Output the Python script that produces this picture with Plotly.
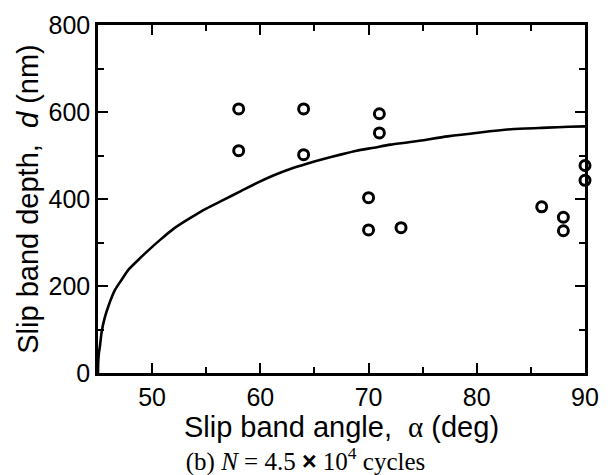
import plotly.graph_objects as go

alpha_pts = [58, 58, 64, 64, 71, 71, 70, 70, 73, 86, 88, 88, 90, 90]
depth_pts = [607, 511, 607, 502, 596, 552, 403, 329, 334, 382, 358, 327, 477, 443]

# Curve samples
curve_alpha = [45.0, 45.02, 45.08, 45.18, 45.34, 45.6, 45.95, 46.57, 47.2, 47.8, 48.6, 49.35,
               50.74, 52.0, 53.5, 55.0, 56.6, 58.2, 59.7, 61.2, 62.76, 64.3, 65.84, 67.4, 68.9,
               70.5, 72.0, 74.2, 77.3, 80.3, 83.4, 86.5, 88.5, 90.0]
curve_depth = [0, 25, 45, 62, 95, 125, 153, 191, 215, 237, 257, 275,
               306, 332, 356, 378, 398, 418, 437, 454, 469, 481, 492, 502, 511,
               518, 525, 532, 544, 553, 561, 564, 566, 567]

x_ticks = [50, 60, 70, 80, 90]
y_ticks = [0, 200, 400, 600, 800]

fig = go.Figure()
fig.add_trace(go.Scatter(x=curve_alpha, y=curve_depth, mode="lines",
                         line=dict(color="black", width=2.6, shape="spline", smoothing=0.6),
                         showlegend=False, cliponaxis=False))
fig.add_trace(go.Scatter(x=alpha_pts, y=depth_pts, mode="markers",
                         marker=dict(symbol="circle-open", size=10, color="black",
                                     line=dict(width=3, color="black")),
                         showlegend=False, cliponaxis=False))

axis_common = dict(showgrid=False, zeroline=False, showline=True, linecolor="black",
                   linewidth=2.5, mirror="ticks", ticks="inside", tickcolor="black",
                   tickwidth=1.5, ticklen=10,
                   tickfont=dict(family="Liberation Sans, Arial, sans-serif", size=25, color="black"))

fig.update_xaxes(range=[45, 90], tickvals=x_ticks, ticktext=[str(v) for v in x_ticks],
                 minor=dict(dtick=5, ticks="inside", ticklen=6, tickwidth=1.5, tickcolor="black"),
                 title=dict(text="Slip band angle, \u00a0<span style=\"font-family:'Liberation Serif'\">\u03b1</span> (deg)",
                            font=dict(family="Liberation Sans, Arial, sans-serif", size=29, color="black"),
                            standoff=0),
                 **axis_common)
fig.update_yaxes(range=[0, 800], tickvals=y_ticks, ticktext=[str(v) for v in y_ticks],
                 minor=dict(dtick=100, ticks="inside", ticklen=6, tickwidth=1.5, tickcolor="black"),
                 title=dict(text="Slip band depth, \u00a0<i>d</i> (nm)",
                            font=dict(family="Liberation Sans, Arial, sans-serif", size=29, color="black"),
                            standoff=2),
                 **axis_common)

fig.update_layout(
    width=611, height=475,
    margin=dict(l=98, r=26, t=25, b=102),
    plot_bgcolor="white", paper_bgcolor="white",
    title=dict(text="(b) <i>N</i> = 4.5 <span style=\"font-family:'Liberation Sans'\"><b>\u00d7</b></span> 10<sup>4</sup> cycles",
               font=dict(family="Liberation Serif, Times New Roman, serif", size=25, color="black"),
               xref="container", yref="container", x=0.5, xanchor="center",
               y=0.03, yanchor="middle"),
)

fig.write_html("out.html")
